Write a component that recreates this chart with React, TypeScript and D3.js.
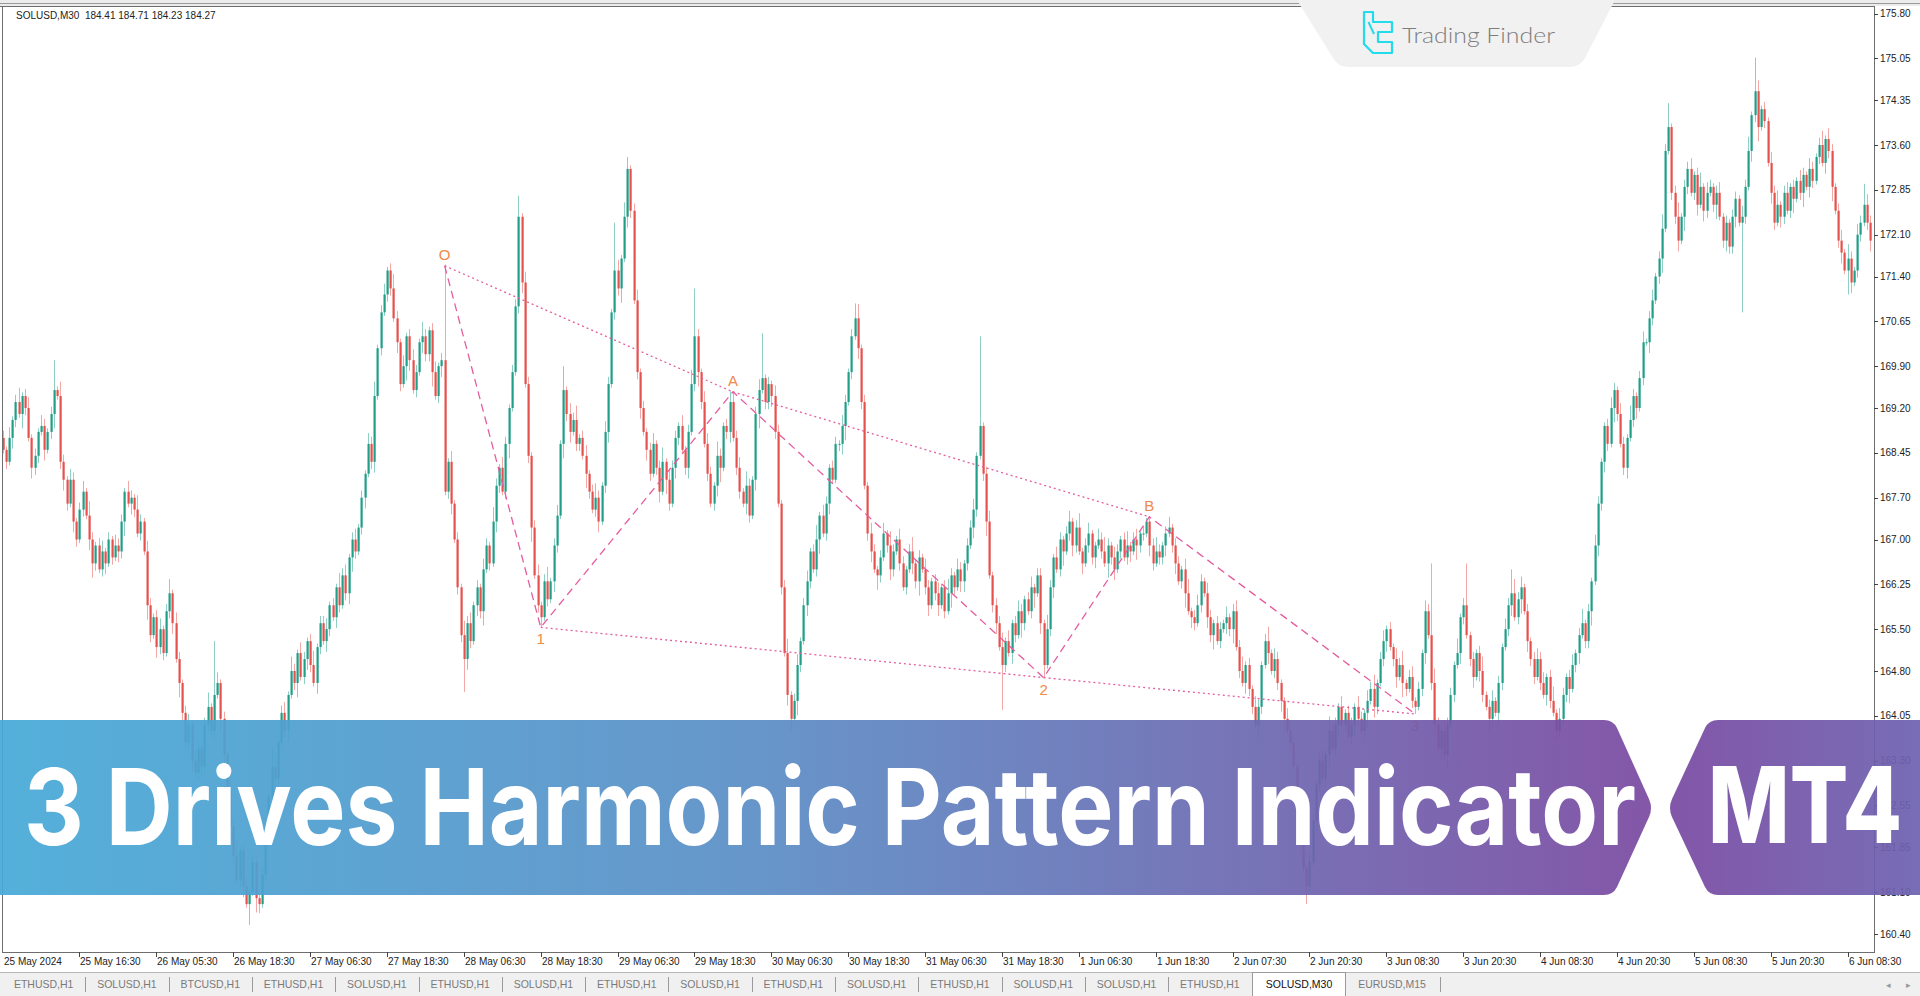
import React from 'react';
import * as d3 from 'd3';

// ---------- DATA ----------
const headerText = 'SOLUSD,M30  184.41 184.71 184.23 184.27';
const firstOpen = 168.7;
// M30 candle closes, left to right (open = previous close)
const closes = [
168.5,168.3,168.7,169.0,169.3,169.1,169.4,169.2,168.7,168.2,
168.4,168.8,168.9,168.5,168.8,169.1,169.5,169.4,168.3,168.0,
167.6,168.0,167.3,167.0,167.5,167.8,167.4,167.0,166.6,166.9,
166.5,166.8,166.6,167.0,166.7,166.9,166.8,167.3,167.8,167.6,
167.7,167.5,167.1,167.3,166.8,165.9,165.4,165.7,165.2,165.5,
165.1,165.8,166.1,165.6,165.0,164.6,164.1,163.6,163.9,163.3,
163.1,163.5,163.2,163.9,164.2,163.8,164.4,164.6,164.0,163.4,
162.8,162.2,161.7,161.3,161.8,161.2,160.9,161.1,161.6,161.0,
160.9,161.4,162.1,162.7,163.2,163.0,163.6,164.1,163.8,164.4,
164.8,164.6,165.1,164.7,165.0,165.3,164.9,164.6,165.2,165.6,165.3,
165.5,165.9,165.7,166.2,165.9,166.4,166.1,166.7,167.0,166.8,
167.2,167.7,168.1,168.6,168.3,169.4,170.2,170.8,171.1,171.5,
171.2,170.7,170.3,169.6,169.9,170.4,170.0,169.5,169.8,170.3,
170.4,170.1,170.5,169.8,169.4,169.9,170.0,167.8,168.3,167.6,
167.0,166.2,165.4,165.0,165.6,165.3,165.9,166.2,165.8,166.5,
166.9,166.6,167.3,167.9,168.2,167.8,168.6,169.2,169.8,170.9,
172.4,171.3,169.6,168.4,167.2,166.4,165.9,165.7,166.3,166.0,
166.3,166.9,167.4,168.6,169.5,169.1,168.8,169.0,168.6,168.7,
168.4,168.1,167.8,167.5,167.7,167.3,167.9,168.8,169.6,170.8,
171.5,171.2,171.7,172.4,173.2,172.5,171.0,169.8,169.2,168.8,
168.5,168.1,168.6,168.2,167.8,168.3,168.0,167.6,168.2,168.7,
168.9,168.5,168.2,168.8,169.6,170.4,169.8,169.3,168.6,168.1,
167.6,167.9,168.4,168.2,168.9,168.8,169.3,168.7,168.2,167.8,
167.6,167.9,167.4,168.0,169.1,169.5,169.7,169.3,169.6,169.4,
168.8,167.6,166.2,165.1,164.4,164.0,164.3,164.9,165.3,165.9,
166.3,166.8,166.5,167.0,167.4,167.1,167.6,168.2,168.0,168.6,
168.6,168.9,169.3,169.8,170.4,170.7,170.2,169.3,167.9,167.1,
166.8,166.5,166.4,166.7,167.1,166.9,166.5,166.8,167.0,166.6,166.2,
166.5,166.8,166.6,166.3,166.7,166.5,166.2,165.9,166.3,166.1,
165.9,166.2,165.8,166.1,166.4,166.2,166.5,166.3,166.6,166.9,
167.2,167.5,168.4,168.9,168.1,167.3,166.4,165.9,165.6,165.2,
164.9,165.3,165.1,165.6,165.4,165.8,165.6,166.0,165.8,166.2,
166.1,166.4,165.6,164.9,165.5,166.2,166.7,166.5,167.0,166.8,
167.1,167.3,166.9,167.2,166.8,166.6,166.9,167.1,166.7,166.9,
167.0,166.8,166.6,166.9,166.7,166.5,166.8,167.0,166.7,166.9,
166.8,167.0,166.9,167.1,167.1,167.3,166.9,166.6,166.8,166.7,
166.9,167.1,167.2,166.9,166.6,166.3,166.5,166.1,165.8,165.7,
165.6,165.9,166.3,166.1,165.7,165.4,165.6,165.3,165.5,165.6,
165.7,165.5,165.8,165.2,164.8,164.6,164.9,164.5,164.2,163.9,
164.2,164.9,165.3,165.1,164.8,165.0,164.6,164.3,164.0,163.8,
163.6,163.2,162.6,161.9,161.5,161.2,161.6,162.3,162.9,163.3,
163.0,163.4,163.8,163.5,163.9,164.2,163.9,164.1,163.7,163.9,
164.2,164.0,163.8,164.1,164.3,164.5,164.2,164.6,165.0,165.3,
165.5,165.2,165.0,164.7,164.9,164.6,164.5,164.7,164.3,164.2,
164.5,165.1,165.8,165.4,164.6,163.9,163.5,163.8,163.4,163.9,
164.4,164.9,165.1,165.7,165.9,165.4,165.0,164.7,165.1,164.8,164.4,
164.2,164.0,164.3,164.1,164.6,165.2,165.5,165.9,166.1,165.7,
166.0,166.2,165.8,165.3,165.0,164.7,165.0,164.6,164.4,164.7,
164.3,164.1,163.8,164.0,164.4,164.7,164.5,164.9,165.1,165.4,
165.6,165.3,165.8,166.3,166.9,167.6,168.3,168.9,168.6,169.2,
169.5,169.1,168.6,168.2,168.7,169.0,169.4,169.2,169.7,170.3,
170.3,170.7,171.0,171.4,171.7,172.2,173.5,173.9,172.8,172.4,
172.0,172.4,172.9,173.2,172.8,173.1,172.6,172.9,172.5,172.8,
172.9,172.6,172.8,172.4,172.0,172.3,171.9,172.4,172.7,172.3,
172.4,172.9,173.5,174.1,174.5,173.9,174.2,174.0,173.3,172.8,
172.3,172.6,172.4,172.8,172.5,172.9,172.7,173.0,172.8,173.1,
172.9,173.2,173.0,173.4,173.6,173.3,173.7,173.5,172.9,172.5,
172.0,171.8,171.5,171.7,171.3,171.5,172.1,172.3,172.6,172.3,172.0
];
// upper / lower wick lengths in units of 0.06
const upperWicks = [
2,1,3,1,2,4,1,2,3,1,2,1,3,2,1,2,2,1,4,2,1,3,2,1,2,3,1,4,2,1,2,3,1,2,1,3,2,2,1,3,
2,1,4,2,1,3,2,1,2,3,1,2,4,1,3,2,1,2,3,1,3,2,1,2,4,1,2,3,1,2,1,3,2,4,1,2,3,1,2,2,
1,2,3,1,5,2,1,2,3,1,4,2,1,3,2,1,2,4,1,2,2,3,1,2,1,4,2,3,1,2,3,1,2,1,3,2,4,1,2,3,
1,2,4,2,1,3,1,2,3,2,1,4,2,1,2,3,1,2,3,1,3,1,2,1,4,2,3,1,2,1,3,2,1,4,2,1,3,2,1,2,
2,4,1,3,2,1,2,3,1,2,4,1,2,3,1,2,1,3,2,4,1,2,3,1,2,4,2,1,3,2,1,2,3,1,4,2,1,2,3,1,
2,1,2,3,1,2,4,1,3,2,2,1,3,1,2,4,1,2,1,3,3,2,1,4,2,1,2,3,1,2,3,1,4,2,1,2,3,2,1,2,
1,3,2,1,2,4,1,2,3,1,2,3,1,2,4,1,3,2,1,2,2,1,3,2,1,2,3,4,1,2,1,3,2,1,2,3,1,4,2,1,
3,2,1,2,4,1,2,1,3,2,1,2,3,1,2,4,2,1,3,2,1,2,2,3,1,4,1,2,3,1,2,2,4,1,3,1,2,3,2,1,
2,3,1,2,2,1,4,2,1,3,2,1,2,3,1,2,4,1,2,3,1,1,3,2,4,2,1,3,2,1,2,4,1,2,3,1,2,1,3,2,
4,2,1,2,3,1,2,2,1,3,4,1,2,3,2,1,3,2,1,2,2,1,3,1,2,3,2,4,1,2,1,3,2,1,2,4,1,3,2,1,
1,3,2,2,1,4,2,1,3,2,1,2,3,1,4,2,2,1,3,1,2,2,1,3,2,1,3,2,4,1,2,3,1,2,1,3,2,4,1,2,
3,1,2,1,3,2,1,4,2,1,3,2,2,1,4,1,2,3,1,2,1,2,4,1,2,3,1,2,1,3,2,1,4,2,3,1,2,1,2,3,
2,3,1,2,4,1,3,2,1,2,3,1,2,4,1,2,1,3,2,1,1,2,3,2,1,3,2,1,4,2,1,2,3,1,2,3,1,2,4,2,
3,1,2,4,1,2,2,3,1,2,4,1,3,2,1,2,3,1,2,1,2,2,1,3,2,4,1,2,3,1,2,1,3,2,4,1,2,3,1,2,
1,3,2,1,3,2,1,2,4,1,3,2,1,2,3,1,4,2,1,3,2,1,3,2,1,2,4,1,2,3,1,2,3,1,2,4,1,2,3,1
];
const lowerWicks = [
1,2,1,3,2,1,4,2,1,3,2,2,1,3,1,2,4,1,2,3,2,1,3,2,1,2,1,3,4,2,1,2,3,1,2,1,3,2,4,1,
3,2,1,2,1,4,2,1,3,2,2,1,2,3,1,4,2,1,2,3,1,2,3,1,2,2,3,1,4,2,1,3,2,1,2,3,1,2,1,4,
2,1,2,4,1,3,2,1,2,3,1,2,4,1,2,3,2,1,3,2,1,3,2,1,3,2,1,2,3,4,2,1,2,3,1,2,3,1,2,1,
2,2,1,3,2,1,4,3,1,2,1,3,2,2,4,1,2,3,1,2,3,1,2,2,1,3,2,1,3,2,4,1,2,1,3,2,1,2,4,1,
1,2,3,1,2,4,1,2,3,1,2,1,3,2,1,4,2,3,1,2,2,1,4,2,1,2,3,1,2,3,1,2,2,4,1,3,2,1,2,3,
1,3,2,1,2,3,1,4,2,1,3,2,1,2,3,1,2,4,2,1,2,1,2,3,4,1,2,3,1,2,2,1,3,2,1,3,4,1,2,2,
3,2,1,2,1,3,2,1,4,2,1,3,2,1,2,4,1,2,3,1,1,2,3,4,1,2,1,3,2,1,2,3,1,4,2,1,2,3,2,1,
2,1,2,1,3,2,4,1,2,3,1,2,3,1,2,1,4,2,1,3,3,2,1,3,2,1,2,4,1,2,3,1,2,2,1,3,2,1,4,2,
1,2,4,1,3,2,1,2,3,1,2,4,1,2,3,2,1,3,1,2,2,3,1,2,1,4,2,3,1,2,1,2,3,1,4,2,2,1,3,2,
1,2,2,3,1,2,3,1,2,4,1,3,2,1,2,1,3,2,4,1,2,1,3,2,4,1,2,1,3,2,2,1,4,2,1,3,1,2,2,3,
3,1,2,1,2,3,1,4,2,1,3,2,1,2,4,1,2,3,1,2,1,2,3,2,1,2,4,1,3,2,1,2,3,1,2,3,1,4,2,1,
2,4,1,2,3,1,2,2,1,3,2,4,1,2,1,3,2,1,2,3,1,3,2,1,4,2,1,3,2,1,2,3,1,2,4,1,3,2,2,1,
2,1,3,2,1,3,2,1,2,4,1,2,3,1,2,2,4,1,3,2,3,2,1,4,2,1,2,3,1,2,3,1,2,1,3,2,1,2,4,1,
1,2,2,3,1,4,2,1,2,3,1,3,2,1,2,4,1,2,3,2,2,3,1,2,2,1,3,2,4,1,2,1,3,2,1,3,2,1,2,4,
1,2,4,1,3,2,1,2,1,3,2,4,1,2,3,1,2,3,1,2,2,1,2,3,1,2,3,1,4,2,1,2,3,2,1,2,4,1,3,1
];
// notable extremes: [candle index, price]
const highSpikes = [[16,170.0],[66,165.3],[138,171.6],[161,172.75],[175,169.9],[191,172.3],[195,173.4],[216,171.2],[228,169.47],[237,170.45],[266,170.95],[305,170.4],[358,167.38],[446,166.6],[457,166.6],[471,166.5],[520,174.3],[547,175.06],[581,172.95]];
const lowSpikes = [[77,160.55],[80,160.75],[144,164.45],[168,165.53],[246,163.8],[312,164.15],[325,164.69],[407,160.9],[441,164.08],[486,163.7],[543,170.8],[576,171.1]];

// 3 Drives pattern
const patternLabels = ['O', '1', 'A', '2', 'B', '3'];
const patternIdx = [138, 168, 228, 325, 358, 441];
const patternPrice = [171.58, 165.53, 169.47, 164.69, 167.38, 164.08];

const priceTicks = [175.80,175.05,174.35,173.60,172.85,172.10,171.40,170.65,169.90,169.20,168.45,167.70,167.00,166.25,165.50,164.80,164.05,163.30,162.55,161.85,161.10,160.40];
const timeLabels = ['25 May 2024','25 May 16:30','26 May 05:30','26 May 18:30','27 May 06:30','27 May 18:30','28 May 06:30','28 May 18:30','29 May 06:30','29 May 18:30','30 May 06:30','30 May 18:30','31 May 06:30','31 May 18:30','1 Jun 06:30','1 Jun 18:30','2 Jun 07:30','2 Jun 20:30','3 Jun 08:30','3 Jun 20:30','4 Jun 08:30','4 Jun 20:30','5 Jun 08:30','5 Jun 20:30','6 Jun 08:30'];
const timeLabelStep = 24;
const tabs = ['ETHUSD,H1','SOLUSD,H1','BTCUSD,H1','ETHUSD,H1','SOLUSD,H1','ETHUSD,H1','SOLUSD,H1','ETHUSD,H1','SOLUSD,H1','ETHUSD,H1','SOLUSD,H1','ETHUSD,H1','SOLUSD,H1','SOLUSD,H1','ETHUSD,H1','SOLUSD,M30','EURUSD,M15'];
const activeTabIndex = 15;
const bannerTitle = '3 Drives Harmonic Pattern Indicator';
const bannerTag = 'MT4';
const brand = 'Trading Finder';

// ---------- LAYOUT ----------
const W = 1920, H = 996;
const plotL = 3, plotR = 1874, plotT = 7, plotB = 952;
const WICK_UNIT = 0.06;
const FONT = '"Liberation Sans", Arial, sans-serif';
const BULL = '#1f9e88', BEAR = '#e5514c';

export default function App() {
  const x = d3.scaleLinear().domain([0, 583]).range([2.6, 1870]);
  const y = d3.scaleLinear().domain([160.40, 175.80]).range([934, 13.5]);

  const hiMap = new Map(highSpikes.map(d => [d[0], d[1]]));
  const loMap = new Map(lowSpikes.map(d => [d[0], d[1]]));
  const candles = closes.map((c, i) => {
    const o = i === 0 ? firstOpen : closes[i - 1];
    const top = Math.max(o, c), bot = Math.min(o, c);
    let h = top + (upperWicks[i] ?? 1) * WICK_UNIT;
    let l = bot - (lowerWicks[i] ?? 1) * WICK_UNIT;
    if (hiMap.has(i)) h = Math.max(top, hiMap.get(i)!);
    if (loMap.has(i)) l = Math.min(bot, loMap.get(i)!);
    return { i, o, c, h, l };
  });

  const pts = patternIdx.map((idx, k) => [x(idx), y(patternPrice[k])] as [number, number]);
  const line = d3.line();
  const dotted = [[0, 2], [2, 4], [1, 3], [3, 5]];

  // tab geometry
  const tabW = 83.3;
  const tabCenters = tabs.map((_, k) => (k < activeTabIndex ? 2 + tabW * (k + 0.5) : k === activeTabIndex ? 1299 : 1392 + (k - activeTabIndex - 1) * tabW));
  const tabSeps = tabs.map((_, k) => (k < activeTabIndex - 1 ? 2 + tabW * (k + 1) : k > activeTabIndex ? tabCenters[k] + 48 : null));

  return (
    <svg width={W} height={H} style={{ position: 'fixed', left: 0, top: 0, background: '#fff' }} fontFamily={FONT}>
      <defs>
        <clipPath id="plotClip"><rect x={plotL} y={plotT} width={plotR - plotL} height={plotB - plotT} /></clipPath>
        <linearGradient id="gLeft" gradientUnits="userSpaceOnUse" x1={0} y1={0} x2={1655} y2={0}>
          <stop offset="0" stopColor="#47aad7" />
          <stop offset="0.45" stopColor="#5b8fc6" />
          <stop offset="1" stopColor="#7b4aa1" />
        </linearGradient>
        <linearGradient id="gRight" gradientUnits="userSpaceOnUse" x1={1668} y1={0} x2={1920} y2={0}>
          <stop offset="0" stopColor="#7a4aa2" />
          <stop offset="1" stopColor="#6d62b0" />
        </linearGradient>
      </defs>
      <rect x={0} y={0} width={W} height={H} fill="#fff" />
      {/* top strip */}
      <rect x={0} y={0} width={W} height={6} fill="#ececec" />
      <line x1={0} x2={W} y1={3.5} y2={3.5} stroke="#9a9a9a" />
      <line x1={0} x2={plotR} y1={6.5} y2={6.5} stroke="#6e6e6e" />
      {/* frame */}
      <line x1={2.5} x2={2.5} y1={6} y2={plotB} stroke="#6e6e6e" />
      <line x1={2} x2={plotR} y1={plotB + 0.5} y2={plotB + 0.5} stroke="#6e6e6e" />
      <line x1={plotR + 0.5} x2={plotR + 0.5} y1={6} y2={plotB + 1} stroke="#6e6e6e" />

      {/* candles */}
      <g clipPath="url(#plotClip)">
        {candles.map(d => {
          const xc = Math.round(x(d.i));
          const bull = d.c >= d.o;
          const col = bull ? BULL : BEAR;
          const yt = y(Math.max(d.o, d.c)), yb = y(Math.min(d.o, d.c));
          return (
            <g key={d.i}>
              <line x1={xc + 0.5} x2={xc + 0.5} y1={y(d.h)} y2={y(d.l)} stroke={col} strokeOpacity={0.5} strokeWidth={1} />
              <rect x={xc - 0.5} y={yt} width={2.2} height={Math.max(1, yb - yt)} fill={col} />
            </g>
          );
        })}
        {/* pattern */}
        <path d={line(pts) || ''} fill="none" stroke="#e45d9f" strokeWidth={1.3} strokeDasharray="8,5" />
        {dotted.map(([a, b], k) => (
          <path key={k} d={line([pts[a], pts[b]]) || ''} fill="none" stroke="#e45d9f" strokeWidth={1.3} strokeDasharray="2,3" />
        ))}
        {pts.map((p, k) => (
          <text key={k} x={p[0]} y={k % 2 === 0 ? p[1] - 6 : p[1] + 17} textAnchor="middle" fontSize={15} fill="#f08a4a">
            {patternLabels[k]}
          </text>
        ))}
      </g>

      {/* header */}
      <text x={16} y={19} fontSize={10} fill="#222" style={{ whiteSpace: 'pre' }}>{headerText}</text>

      {/* price axis */}
      {priceTicks.map(p => (
        <g key={p}>
          <line x1={plotR} x2={plotR + 4} y1={Math.round(y(p)) + 0.5} y2={Math.round(y(p)) + 0.5} stroke="#444" />
          <text x={1880} y={y(p) + 3.5} fontSize={10} fill="#222">{p.toFixed(2)}</text>
        </g>
      ))}

      {/* time axis */}
      {timeLabels.map((t, k) => {
        const xi = Math.round(x(k * timeLabelStep));
        return (
          <g key={k}>
            {k > 0 && <line x1={xi + 0.5} x2={xi + 0.5} y1={plotB} y2={plotB + 5} stroke="#444" />}
            <text x={k === 0 ? 4 : xi + 1} y={965} fontSize={10} fill="#222">{t}</text>
          </g>
        );
      })}

      {/* tabs */}
      <rect x={0} y={972} width={W} height={24} fill="#f0f0f0" />
      <line x1={0} x2={W} y1={972.5} y2={972.5} stroke="#b8b8b8" />
      <rect x={1252.5} y={972.5} width={93} height={24} fill="#fff" stroke="#9a9a9a" />
      {tabs.map((t, k) => {
        const active = k === activeTabIndex;
        const sep = tabSeps[k];
        return (
          <g key={k}>
            {sep !== null && <line x1={Math.round(sep) + 0.5} x2={Math.round(sep) + 0.5} y1={977} y2={992} stroke="#9a9a9a" />}
            <text x={tabCenters[k]} y={988} fontSize={10.5} textAnchor="middle" fill={active ? '#111' : '#7a7a7a'}>{t}</text>
          </g>
        );
      })}
      <text x={1886} y={988} fontSize={9} fill="#999">◂</text>
      <text x={1906} y={988} fontSize={9} fill="#999">▸</text>

      {/* logo tab */}
      <path d="M1297,0 L1615,0 L1585,58 Q1580,67 1569,67 L1349,67 Q1338,67 1333,58 Z" fill="#f1f1f1" />
      <path d="M1364,12 H1373 V22 H1392 V32 H1378 V42 H1392 V53 H1373 L1364,44 Z" fill="none" stroke="#22dcec" strokeWidth={2.2} strokeLinejoin="round" />
      <line x1={1368.5} y1={22} x2={1374} y2={34} stroke="#22dcec" strokeWidth={2} />
      <text x={1402} y={43} fontSize={21} fontFamily="Lato, 'Open Sans', sans-serif" fontWeight={300} fill="#7d7d7d" textLength={153} lengthAdjust="spacingAndGlyphs">{brand}</text>

      {/* banner */}
      <g opacity={0.93}>
        <path d="M0,720 H1604 Q1613,720 1617,728 L1649,799 Q1653,808 1649,817 L1617,887 Q1613,895 1604,895 H0 Z" fill="url(#gLeft)" />
        <path d="M1920,720 H1718 Q1709,720 1705,728 L1672,799 Q1668,808 1672,817 L1705,887 Q1709,895 1718,895 H1920 Z" fill="url(#gRight)" />
      </g>
      <text x={24} y={845} fontSize={106} fontFamily="Inter, Roboto, sans-serif" fontWeight={700} fill="#fff" textLength={1612} lengthAdjust="spacingAndGlyphs">{bannerTitle}</text>
      <text x={1708} y={843} fontSize={106} fontFamily="Inter, Roboto, sans-serif" fontWeight={800} fill="#fff" textLength={194} lengthAdjust="spacingAndGlyphs">{bannerTag}</text>
    </svg>
  );
}
